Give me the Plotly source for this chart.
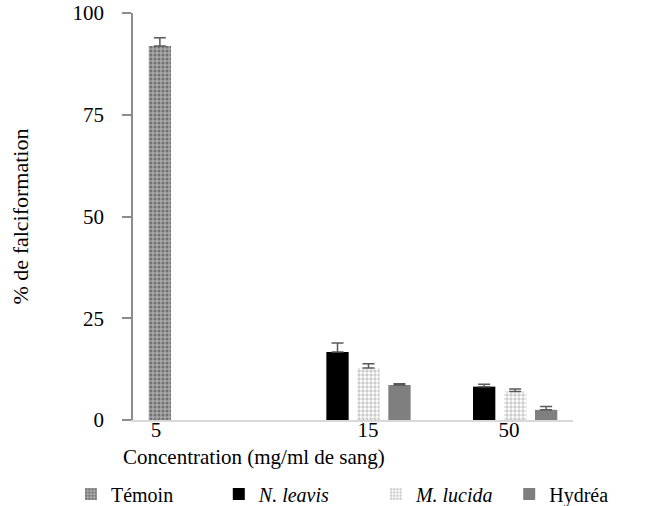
import plotly.graph_objects as go

categories = ["5", "15", "50"]
series_names = ["Témoin", "<i>N. leavis</i>", "<i>M. lucida</i>", "Hydréa"]
temoin = [91.9, None, None]
temoin_err = [2.0, 0, 0]
n_leavis = [None, 16.7, 8.2]
n_leavis_err = [0, 2.2, 0.6]
m_lucida = [None, 12.8, 7.0]
m_lucida_err = [0, 1.0, 0.6]
hydrea = [None, 8.6, 2.5]
hydrea_err = [0, 0.3, 0.8]
y_ticks = [0, 25, 50, 75, 100]

x = list(range(len(categories)))
FONT = "Liberation Serif"

styles = [
    dict(color="#a8a8a8", pattern=dict(shape=".", fgcolor="#3c3c3c", bgcolor="#a8a8a8", size=4, solidity=0.45)),
    dict(color="#000000"),
    dict(color="#ffffff", pattern=dict(shape=".", fgcolor="#9a9a9a", bgcolor="#ffffff", size=4, solidity=0.55)),
    dict(color="#7f7f7f"),
]
values = [temoin, n_leavis, m_lucida, hydrea]
errs = [temoin_err, n_leavis_err, m_lucida_err, hydrea_err]
legend_ids = ["legend", "legend2", "legend3", "legend4"]
legend_x = [-0.141, 0.195, 0.552, 0.855]

fig = go.Figure()
for name, vals, err, st, lid in zip(series_names, values, errs, styles, legend_ids):
    marker = dict(color=st["color"], line=dict(width=0))
    if "pattern" in st:
        marker["pattern"] = st["pattern"]
    fig.add_trace(go.Bar(
        x=x, y=vals, name=name, marker=marker, legend=lid,
        error_y=dict(type="data", array=err, arrayminus=[0] * len(err), symmetric=False,
                     color="#595959", thickness=1.5, width=6),
    ))

legend_common = dict(orientation="h", y=-0.182, xanchor="left", yanchor="middle",
                     font=dict(family=FONT, size=20), bgcolor="rgba(0,0,0,0)")
legends = {lid: dict(x=lx, **legend_common) for lid, lx in zip(legend_ids, legend_x)}

fig.update_layout(
    width=648, height=506,
    margin=dict(l=133, r=75, t=13, b=86, autoexpand=False),
    paper_bgcolor="white", plot_bgcolor="white",
    barmode="group", bargap=0.155, bargroupgap=0.28,
    font=dict(family=FONT, size=20, color="black"),
    showlegend=True,
    **legends,
    xaxis=dict(range=[-0.5, 2.5], tickmode="array", tickvals=[-0.343, 1.102, 2.063],
               ticktext=categories, showline=True, linecolor="#d9d9d9", linewidth=2,
               ticks="", showgrid=False, zeroline=False, tickfont=dict(family=FONT, size=21),
               ticklabelstandoff=-10),
    yaxis=dict(range=[0, 100], tickvals=y_ticks, showline=True, linecolor="#8c8c8c", linewidth=1.5,
               ticks="outside", ticklen=9, tickcolor="#8c8c8c", tickwidth=1.5, showgrid=False,
               zeroline=False, tickfont=dict(family=FONT, size=21), ticklabelstandoff=14,
               title=dict(text="% de falciformation", font=dict(family=FONT, size=22), standoff=38)),
    annotations=[dict(text="Concentration (mg/ml de sang)", xref="paper", yref="paper",
                      x=0.275, y=-0.09, xanchor="center", yanchor="middle", showarrow=False,
                      font=dict(family=FONT, size=21))],
)

fig.write_html("out.html")
